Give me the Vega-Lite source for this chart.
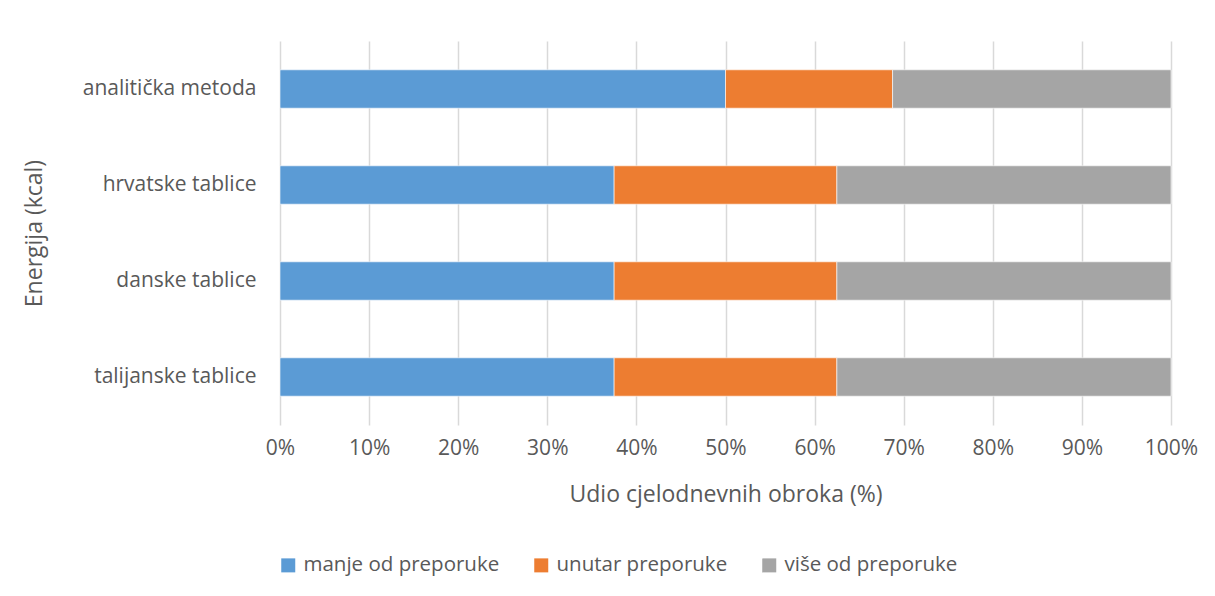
{
  "$schema": "https://vega.github.io/schema/vega-lite/v6.json",
  "autosize": {"type": "none"},
  "width": 891,
  "height": 384,
  "padding": {"left": 280, "top": 41, "right": 44, "bottom": 171},
  "background": "white",
  "data": {
    "values": [
      {"metoda": "analitička metoda", "kategorija": "manje od preporuke", "red": 1, "udio": 50},
      {"metoda": "analitička metoda", "kategorija": "unutar preporuke", "red": 2, "udio": 18.75},
      {"metoda": "analitička metoda", "kategorija": "više od preporuke", "red": 3, "udio": 31.25},
      {"metoda": "hrvatske tablice", "kategorija": "manje od preporuke", "red": 1, "udio": 37.5},
      {"metoda": "hrvatske tablice", "kategorija": "unutar preporuke", "red": 2, "udio": 25},
      {"metoda": "hrvatske tablice", "kategorija": "više od preporuke", "red": 3, "udio": 37.5},
      {"metoda": "danske tablice", "kategorija": "manje od preporuke", "red": 1, "udio": 37.5},
      {"metoda": "danske tablice", "kategorija": "unutar preporuke", "red": 2, "udio": 25},
      {"metoda": "danske tablice", "kategorija": "više od preporuke", "red": 3, "udio": 37.5},
      {"metoda": "talijanske tablice", "kategorija": "manje od preporuke", "red": 1, "udio": 37.5},
      {"metoda": "talijanske tablice", "kategorija": "unutar preporuke", "red": 2, "udio": 25},
      {"metoda": "talijanske tablice", "kategorija": "više od preporuke", "red": 3, "udio": 37.5}
    ]
  },
  "mark": {"type": "bar", "stroke": "white", "strokeWidth": 0.6},
  "encoding": {
    "y": {
      "field": "metoda",
      "type": "nominal",
      "sort": ["analitička metoda", "hrvatske tablice", "danske tablice", "talijanske tablice"],
      "scale": {"paddingInner": 0.6, "paddingOuter": 0.3},
      "axis": {
        "title": "Energija (kcal)",
        "titleFont": "Open Sans",
        "titleFontSize": 23,
        "titleFontWeight": "normal",
        "titleColor": "#595959",
        "titleAngle": -90,
        "titleX": -246,
        "titleY": 192,
        "titleAlign": "center",
        "titleBaseline": "middle",
        "labelFont": "Open Sans",
        "labelFontSize": 21,
        "labelColor": "#595959",
        "labelPadding": 24,
        "labelLimit": 300,
        "ticks": false,
        "domain": false,
        "grid": false
      }
    },
    "x": {
      "field": "udio",
      "type": "quantitative",
      "stack": "normalize",
      "scale": {"domain": [0, 1], "nice": false},
      "axis": {
        "title": "Udio cjelodnevnih obroka (%)",
        "titleFont": "Open Sans",
        "titleFontSize": 23,
        "titleFontWeight": "normal",
        "titleColor": "#595959",
        "titleY": 69,
        "titleBaseline": "middle",
        "format": ".0%",
        "values": [0, 0.1, 0.2, 0.3, 0.4, 0.5, 0.6, 0.7, 0.8, 0.9, 1],
        "labelFont": "Open Sans",
        "labelFontSize": 21,
        "labelColor": "#595959",
        "labelPadding": 12,
        "labelFlush": false,
        "ticks": false,
        "domain": false,
        "grid": true,
        "gridColor": "#D9D9D9",
        "gridWidth": 1.5
      }
    },
    "color": {
      "field": "kategorija",
      "type": "nominal",
      "scale": {
        "domain": ["manje od preporuke", "unutar preporuke", "više od preporuke"],
        "range": ["#5B9BD5", "#ED7D31", "#A5A5A5"]
      },
      "legend": {
        "title": null,
        "orient": "none",
        "direction": "horizontal",
        "legendX": -2,
        "legendY": 514,
        "symbolType": "square",
        "symbolSize": 196,
        "symbolStrokeWidth": 0,
        "labelFont": "Open Sans",
        "labelFontSize": 20.5,
        "labelLimit": 300,
        "labelColor": "#595959",
        "labelOffset": 5,
        "columnPadding": 31
      }
    },
    "order": {"field": "red", "type": "quantitative"}
  },
  "config": {"view": {"stroke": null}}
}
